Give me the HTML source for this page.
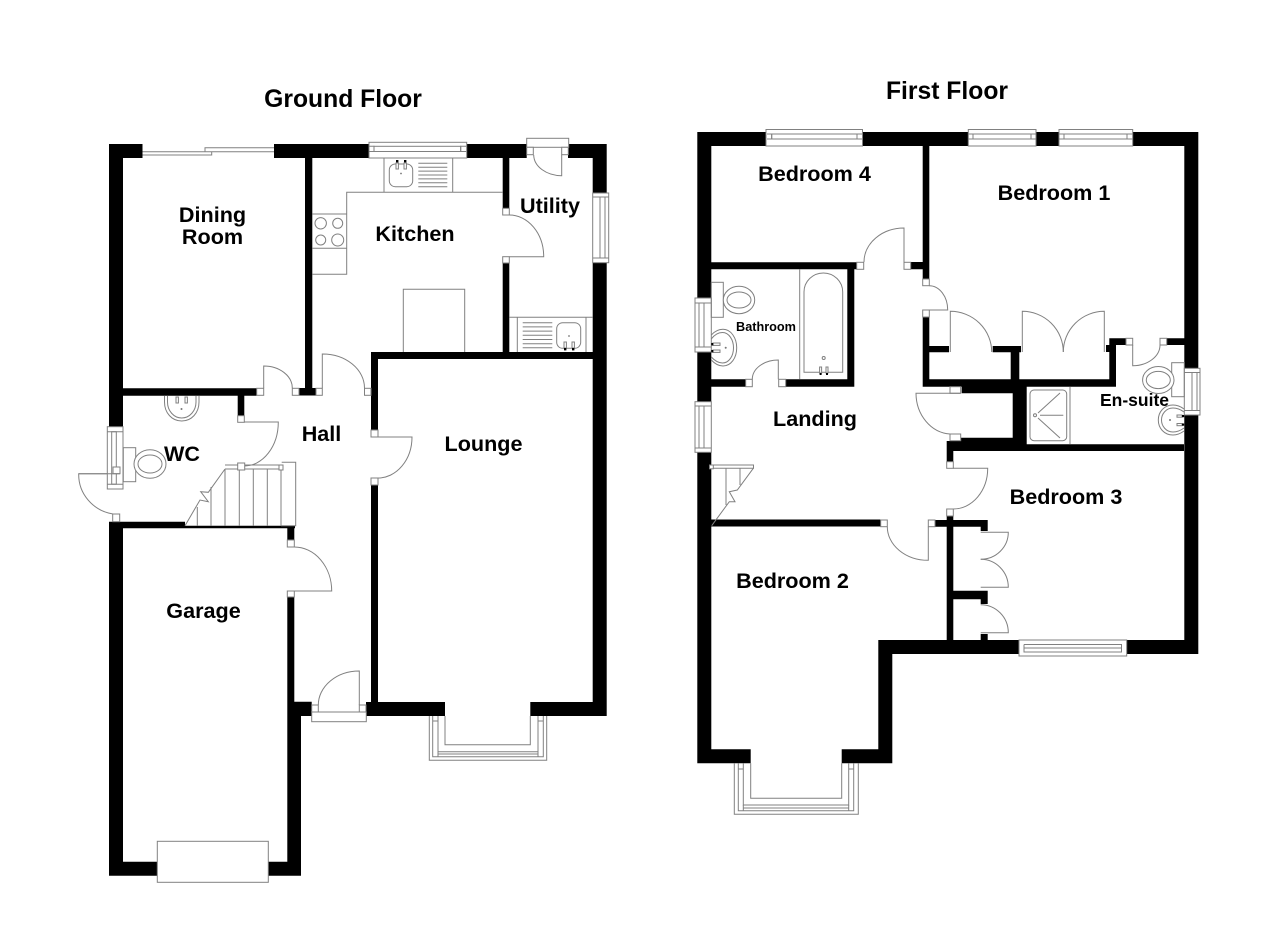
<!DOCTYPE html>
<html><head><meta charset="utf-8"><style>
html,body{margin:0;padding:0;background:#fff}
svg{display:block}
text{font-family:"Liberation Sans",sans-serif;font-weight:bold;fill:#000;text-anchor:middle}
.l{fill:none;stroke:#808080;stroke-width:1}
.p{fill:#fff;stroke:#808080;stroke-width:1}
</style></head><body>
<svg width="1280" height="931" viewBox="0 0 1280 931" xmlns="http://www.w3.org/2000/svg">
<rect width="1280" height="931" fill="#fff"/>

<!-- GROUND FLOOR WALLS -->
<path fill="#000" d="M109 144H142.5V158H123V427H109Z
M274 144H369V158H312.3V388H315.7V395.5H299V388H305V158H274Z
M466.7 144H526.7V158H509.3V208.3H502.7V158H466.7Z
M568 144H606.7V193H592.7V158H568Z
M592.7 262.7H606.7V716H530.3V702H592.7V359H378V430H371V352H502.7V263H509.3V352H592.7Z
M123 388.3H256.7V395.7H244.3V415.7H237.7V395.7H123Z
M109 521.7H185V525.7H295V528.3H294.3V540H287.3V528.3H123V861.7H157V875.7H109Z
M287.3 597H294.3V701.7H311.7V716H301V875.7H268V861.7H287.3V716H287.3Z
M371 485H378V702H445V716H366V702H371Z"/>

<!-- GROUND FLOOR posts -->
<rect class="p" x="256.7" y="388.3" width="7" height="7"/><rect class="p" x="292.3" y="388.3" width="6.7" height="7"/>
<rect class="p" x="316" y="388.3" width="6.3" height="7"/><rect class="p" x="364.5" y="388.3" width="6.5" height="7"/>
<rect class="p" x="237.7" y="415.7" width="6.6" height="6.6"/>
<rect class="p" x="371" y="430" width="7" height="7"/><rect class="p" x="371" y="478" width="7" height="7"/>
<rect class="p" x="287.3" y="540" width="7" height="7"/><rect class="p" x="287.3" y="591" width="7" height="6"/>
<rect class="p" x="502.7" y="208.3" width="6.6" height="6.7"/><rect class="p" x="502.7" y="256.7" width="6.6" height="6.3"/>
<rect class="p" x="112.7" y="514" width="7" height="7.7"/>
<!-- GF doors -->
<path class="l" d="M263.7 388V366A28.6 22 0 0 1 292.3 388"/>
<path class="l" d="M322.3 388V354A42 34 0 0 1 364.5 388"/>
<path class="l" d="M244.3 422H278.3A34 44 0 0 1 244.3 466"/>
<path class="l" d="M378 437H412A34 41 0 0 1 378 478"/>
<path class="l" d="M294.3 547A37.4 44 0 0 1 331.7 591H294.3"/>
<path class="l" d="M120 473.7H78.7A41 40 0 0 0 113 514"/>
<path class="l" d="M509.3 215A34.4 41.7 0 0 1 543.7 256.7H509.3"/>
<rect class="p" x="311.7" y="712" width="54.6" height="9.7"/>
<rect class="p" x="311.7" y="705" width="6.6" height="7"/><rect class="p" x="359.3" y="705" width="6.7" height="7"/>
<path class="l" d="M318.3 705A41 34 0 0 1 359.3 671V705"/>
<!-- Utility door -->
<rect class="p" x="526.7" y="138.3" width="42" height="9"/>
<rect class="p" x="526.7" y="147.3" width="6.6" height="7.4"/><rect class="p" x="561.7" y="147.3" width="6.6" height="7.4"/>
<path class="l" d="M533.7 155A28 21 0 0 0 561.7 175.7V154.7"/>

<!-- GF windows -->
<rect class="p" x="369" y="142.3" width="97.7" height="15.7"/>
<rect class="p" x="374" y="146.3" width="86.7" height="5.2"/>
<path class="l" d="M369.5 146.3H374V151.5H369.5M466.2 146.3H460.7V151.5H466.2"/>
<rect class="p" x="592.7" y="193" width="16" height="69.7"/>
<rect class="p" x="600" y="197" width="5" height="61"/>
<path class="l" d="M592.7 197H608.7M592.7 258H608.7"/>
<!-- sliding -->
<path class="l" d="M142.5 151.7H211.7V155H142.5M205 151.7V147.7H274M205 151.7H274"/>
<!-- WC window -->
<rect class="p" x="107.3" y="426.7" width="15.7" height="62.3"/>
<rect class="p" x="111.7" y="431.7" width="4.6" height="52.5"/>
<path class="l" d="M107.3 431.7H123M107.3 484.2H123"/>
<rect class="p" x="113" y="467" width="7" height="6.7"/>
<path class="l" d="M120 473.7H78.7"/>
<!-- Lounge bay -->
<path class="l" d="M445 716V744.7H530.3V716"/>
<path class="l" d="M429.3 716V760.3H546.7V716"/>
<path class="l" d="M432.7 716V756.7H543.3V716M438 716V751.7H538V716"/>
<path class="l" d="M432.7 721H438M538 721H543.3M438 751.7V756.7M538 751.7V756.7M438 754H538"/>
<!-- Garage door -->
<rect class="p" x="157.3" y="841.3" width="111" height="41"/>

<!-- Kitchen -->
<path class="l" d="M502.7 192.3H346.7V274.3H312.3M312.3 214H346.7M312.3 248.3H346.7M384 158V192.3M452.7 158V192.3"/>
<circle class="l" cx="320.7" cy="223.3" r="5.7"/><circle class="l" cx="337.7" cy="223.3" r="5"/>
<circle class="l" cx="320.7" cy="240" r="5"/><circle class="l" cx="337.7" cy="240" r="6"/>
<rect class="l" x="389.3" y="164" width="23.4" height="22.7" rx="6"/>
<path class="l" d="M418.3 163.3H447.3M418.3 167.2H447.3M418.3 171.1H447.3M418.3 175H447.3M418.3 178.9H447.3M418.3 182.8H447.3M418.3 186.7H447.3"/>
<rect class="p" x="396" y="163" width="2.4" height="6"/><rect class="p" x="404" y="163" width="2.4" height="6"/>
<rect fill="#000" x="396" y="160" width="2.4" height="2.4"/><rect fill="#000" x="404" y="160" width="2.4" height="2.4"/>
<circle cx="401" cy="173.5" r="0.9" fill="#777"/>
<path class="l" d="M403.3 352V289.3H464.7V352"/>
<!-- utility sink -->
<path class="l" d="M509.3 317.3H592.7M517.3 317.3V352M586 317.3V352"/>
<path class="l" d="M522.7 322.7H552.3M522.7 326.9H552.3M522.7 331.1H552.3M522.7 335.3H552.3M522.7 339.5H552.3M522.7 343.7H552.3M522.7 347.7H552.3"/>
<rect class="l" x="556.7" y="322.7" width="24" height="25.6" rx="6"/>
<rect class="p" x="564" y="342" width="2.4" height="6"/><rect class="p" x="572" y="342" width="2.4" height="6"/>
<rect fill="#000" x="564" y="348" width="2.4" height="2.4"/><rect fill="#000" x="572" y="348" width="2.4" height="2.4"/>
<circle cx="569" cy="336" r="0.9" fill="#777"/>

<!-- WC fittings -->
<rect class="l" x="123.3" y="447.7" width="12.4" height="34"/>
<ellipse class="p" cx="150" cy="464" rx="16" ry="14.3"/>
<ellipse class="l" cx="150" cy="464" rx="12" ry="9"/>
<path class="l" d="M164.5 395.7V402C164.5 413 172 421 181.7 421C191.5 421 199 413 199 402V395.7"/>
<path class="l" d="M167.5 395.7V402C167.5 411 174 418 181.7 418C189.5 418 196 411 196 402V395.7"/>
<rect class="p" x="176" y="397" width="2.4" height="6"/><rect class="p" x="185" y="397" width="2.4" height="6"/>
<circle cx="181.5" cy="409" r="1" fill="#777"/>

<!-- GF stairs -->
<path class="l" d="M225 465H281.7V469H225M281.7 462.3H295.7V525.7H281M281 469V525.7"/>
<path class="l" d="M225 469V525.7M239.3 469V525.7M253.3 469V525.7M267.3 469V525.7M211 487V525.7M197.3 507V525.7"/>
<path class="l" d="M225 469L208.3 492.3L200.7 491.7L208.3 501.7L200 500L185 525.7"/>
<rect class="p" x="237.7" y="463" width="7" height="7"/>
<rect class="p" x="279" y="465" width="4" height="5"/>

<!-- FIRST FLOOR WALLS -->
<path fill="#000" d="M697.3 132H766V146H711.3V298H697.3Z
M862 132H968V146H929.3V279H922.7V262H910.7V269.3H922.7V146H862Z
M1036 132H1059V146H1036Z
M1133 132H1198.3V368H1184.3V146H1133Z
M697.3 352H711.3V402H697.3Z
M697.3 452.3H711.3V519.5H880.7V526.5H711.3V749.3H750.7V763.3H697.3Z
M711.3 262.3H856.7V269.3H854.3V386.7H785.7V379.3H847.3V269.3H711.3Z
M711.3 379.3H745.7V386.7H711.3Z
M922.7 317H929.3V346H949V352.3H929.3V379.3H1010.7V352.3H992.7V346H1021V352.3H1019.3V379.3H1109.3V338.3H1126V345H1116V386.7H1026.7V444.3H1184V451H953.3V461.7H946.7V441H961V437.7H1012.7V393.3H961.7V386.7H922.7Z
M1166.7 338.3H1184.3V345H1166.7Z
M1106 345H1110V352H1106Z
M1184.3 415H1198.3V654H1126.7V640H1184.3Z
M878.3 640H1019V654H892.3V763.3H841.7V749.3H878.3Z
M946.7 516H953.3V520H987.7V531H980.7V526.7H953.3V590.7H987.7V604H980.7V599.3H953.3V640H946.7Z
M935 520H947V526.7H935Z
M980.7 634H987.7V640H980.7Z"/>

<!-- FF posts -->
<rect class="p" x="856.7" y="262.3" width="7" height="7"/><rect class="p" x="904" y="262.3" width="6.7" height="7"/>
<rect class="p" x="745.7" y="379.3" width="6.6" height="7.4"/><rect class="p" x="778.7" y="379.3" width="7" height="7.4"/>
<rect class="p" x="922.7" y="279" width="6.6" height="6.7"/><rect class="p" x="922.7" y="310" width="6.6" height="7"/>
<rect class="p" x="950" y="386.7" width="10.7" height="6.6"/><rect class="p" x="950" y="434" width="10.7" height="6.7"/>
<rect class="p" x="946.7" y="461.7" width="6.6" height="6.6"/><rect class="p" x="946.7" y="509" width="6.6" height="7"/>
<rect class="p" x="928.3" y="520" width="6.7" height="6.7"/><rect class="p" x="880.7" y="520" width="6.6" height="6.7"/>
<rect class="p" x="1126" y="338.3" width="6.7" height="6.7"/><rect class="p" x="1160" y="338.3" width="6.7" height="6.7"/>

<!-- FF doors -->
<path class="l" d="M864 262A40 34 0 0 1 904 228V262"/>
<path class="l" d="M752.3 379.3A26 19.3 0 0 1 778.3 360V379.3"/>
<path class="l" d="M929.3 285.7A18.4 24.3 0 0 1 947.7 310H929.3"/>
<path class="l" d="M950.3 352V311.3A41.4 40.7 0 0 1 991.7 352"/>
<path class="l" d="M1022.3 352V311.3A41 40.7 0 0 1 1063.3 352"/>
<path class="l" d="M1104.3 352V311.3A41 40.7 0 0 0 1063.3 352"/>
<path class="l" d="M1132.7 345V365.7A27.3 20.7 0 0 0 1160 345"/>
<path class="l" d="M960 393.3H916A36 41 0 0 0 950 434"/>
<path class="l" d="M953.3 468.3H987.7A34.4 40.7 0 0 1 953.3 509"/>
<path class="l" d="M887.3 526.7A41 33.6 0 0 0 928.3 560.3V526.7"/>
<path class="l" d="M980.7 532.3H1008.3A27.6 27 0 0 1 980.7 559.3"/>
<path class="l" d="M980.7 559.3A27.6 28 0 0 1 1008.3 587.3H980.7"/>
<path class="l" d="M980.7 604.7A27.6 28 0 0 1 1008.3 632.7H980.7"/>

<!-- FF windows -->
<rect class="p" x="766" y="129.5" width="96.5" height="16.5"/><rect class="p" x="771.7" y="134" width="85.3" height="5"/>
<path class="l" d="M767 134H771.7V139H767M862 134H857V139H862"/>
<rect class="p" x="968.3" y="129.5" width="67.7" height="16.5"/><rect class="p" x="973" y="134" width="58" height="5"/>
<path class="l" d="M968.5 134H973V139H968.5M1036 134H1031V139H1036"/>
<rect class="p" x="1059" y="129.5" width="73.7" height="16.5"/><rect class="p" x="1064" y="134" width="63" height="5"/>
<path class="l" d="M1059.5 134H1064V139H1059.5M1132.5 134H1127V139H1132.5"/>
<rect class="p" x="695" y="298" width="16.3" height="54"/><rect class="p" x="699" y="303" width="5" height="44"/>
<path class="l" d="M695 303H711.3M695 347H711.3"/>
<rect class="p" x="695" y="401.7" width="16.3" height="50.6"/><rect class="p" x="699" y="406" width="5" height="42"/>
<path class="l" d="M695 406H711.3M695 448H711.3"/>
<rect class="p" x="1184.3" y="368.3" width="15.7" height="46.7"/><rect class="p" x="1192" y="372.5" width="5" height="38"/>
<path class="l" d="M1184.3 372.5H1200M1184.3 410.5H1200"/>
<rect class="p" x="1019" y="640" width="107.7" height="16"/><rect class="p" x="1024" y="648" width="97.5" height="4"/>
<path class="l" d="M1024 644.5H1121.5V648M1024 644.5V648"/>
<!-- FF bay -->
<path class="l" d="M750.7 763.3V798.3H841.7V763.3"/>
<path class="l" d="M734.3 763.3V814.3H858.3V763.3"/>
<path class="l" d="M738.3 763.3V810.7H853.7V763.3M743.3 763.3V805H848.7V763.3"/>
<path class="l" d="M738.3 769H743.3M848.7 769H853.7M743.3 805V810.7M848.7 805V810.7M743.3 808H848.7"/>

<!-- Bathroom -->
<path class="l" d="M799.7 269.3V379.3"/>
<path class="l" d="M804 372.3V292A19.3 19 0 0 1 842.7 292V372.3Z"/>
<circle class="l" cx="823.7" cy="358" r="1.5"/>
<rect class="p" x="819.6" y="367" width="2" height="6"/><rect class="p" x="826" y="367" width="2" height="6"/>
<rect fill="#000" x="819.6" y="373" width="2" height="2"/><rect fill="#000" x="826" y="373" width="2" height="2"/>
<rect class="l" x="711.3" y="282.3" width="12" height="35"/>
<ellipse class="p" cx="739" cy="300" rx="15.7" ry="13.7"/><ellipse class="l" cx="739" cy="300" rx="12" ry="8"/>
<path class="l" d="M711.3 335C715 331 719 329.3 723 329.3C731 329.3 736.7 338 736.7 347.7C736.7 358 731 366 723 366C719 366 715 364 711.3 360"/>
<path class="l" d="M711.3 339C715 334 719 332.5 722.5 332.5C729 332.5 733.5 340 733.5 347.7C733.5 356 729 363 722.5 363C719 363 715 361 711.3 357"/>
<rect class="p" x="713" y="343" width="7" height="2.4"/><rect class="p" x="713" y="350" width="7" height="2.4"/>
<rect fill="#000" x="711.3" y="343" width="2" height="2.4"/><rect fill="#000" x="711.3" y="350" width="2" height="2.4"/>
<circle cx="725.7" cy="347.7" r="1" fill="#777"/>

<!-- Ensuite -->
<rect class="l" x="1171.7" y="362.7" width="12.6" height="34"/>
<ellipse class="p" cx="1158.3" cy="380" rx="15.7" ry="13.5"/><ellipse class="l" cx="1158.3" cy="380" rx="12" ry="8.6"/>
<path class="l" d="M1184 409C1180 406 1176 405 1173 405C1164 405 1158.3 412 1158.3 420C1158.3 428 1164 435 1173 435C1176 435 1180 434 1184 431"/>
<path class="l" d="M1184 412C1180 409 1176 408 1173 408C1166 408 1161.5 414 1161.5 420C1161.5 426 1166 432 1173 432C1176 432 1180 431 1184 428"/>
<rect class="p" x="1177" y="415" width="5" height="2.2"/><rect class="p" x="1177" y="423.5" width="5" height="2.2"/>
<rect fill="#000" x="1182" y="415" width="2.2" height="2.2"/><rect fill="#000" x="1182" y="423.5" width="2.2" height="2.2"/>
<circle cx="1170" cy="420" r="1" fill="#777"/>
<path class="l" d="M1070 386.7V444.3"/>
<rect class="l" x="1030" y="390" width="36.7" height="50.7" rx="4"/>
<circle class="l" cx="1035" cy="415.3" r="1.5"/>
<path class="l" d="M1038 413L1060 393M1040 415.3H1063.3M1038 418L1060 438"/>

<!-- FF stairs -->
<path class="l" d="M713 465H753.5V468.3H713M726 468.3V505M740 468.3V485"/>
<path class="l" d="M753.3 468.3L737.3 490L729.3 491.7L735 501.7L729.3 501.7L711.7 525.7"/>
<rect class="p" x="709.5" y="465" width="3.8" height="3.8"/>

<!-- LABELS -->
<text x="343" y="107" font-size="24.7">Ground Floor</text>
<text x="947" y="99" font-size="24.7">First Floor</text>
<text x="212.5" y="222" font-size="21.6">Dining</text>
<text x="212.5" y="244" font-size="21.6">Room</text>
<text x="415" y="241" font-size="21.6">Kitchen</text>
<text x="550" y="213" font-size="21.6">Utility</text>
<text x="321.5" y="441" font-size="21.6">Hall</text>
<text x="182" y="461" font-size="21.6">WC</text>
<text x="483.5" y="451" font-size="21.6">Lounge</text>
<text x="203.5" y="618" font-size="21.6">Garage</text>
<text x="814.5" y="181" font-size="21.6">Bedroom 4</text>
<text x="1054" y="200" font-size="21.6">Bedroom 1</text>
<text x="766" y="331" font-size="12.7">Bathroom</text>
<text x="815" y="426" font-size="21.6">Landing</text>
<text x="1134.5" y="406" font-size="17.5">En-suite</text>
<text x="1066" y="504" font-size="21.6">Bedroom 3</text>
<text x="792.5" y="588" font-size="21.6">Bedroom 2</text>
</svg>
</body></html>
